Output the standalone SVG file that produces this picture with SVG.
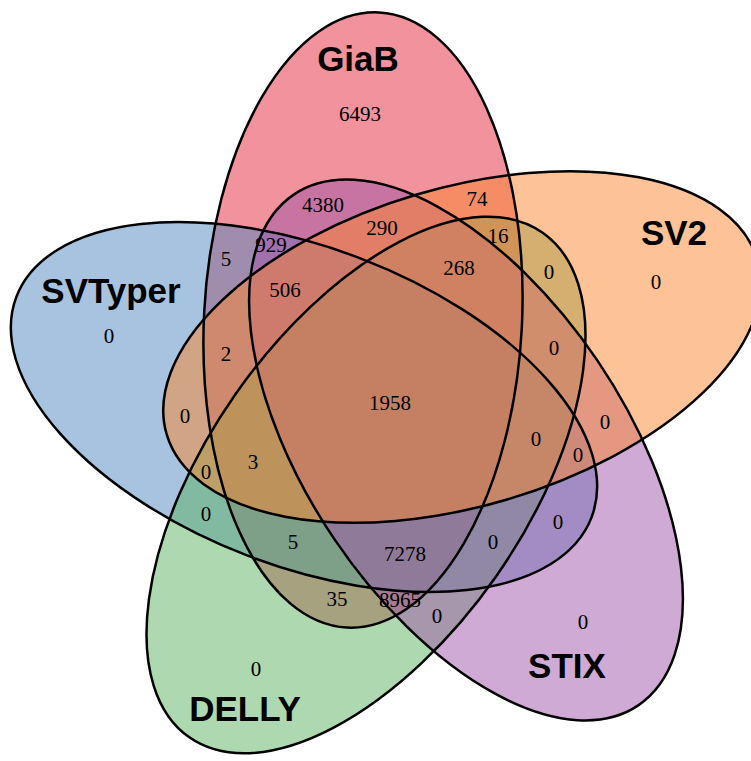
<svg xmlns="http://www.w3.org/2000/svg" xmlns:xlink="http://www.w3.org/1999/xlink" width="751" height="761" viewBox="0 0 751 761">
  <style>
    .fill { fill-opacity: 0.5; stroke: none; }
    .outline { fill: none; stroke: #000; stroke-width: 2.5; }
    .name { font-family: "Liberation Sans", Arial, sans-serif; font-weight: bold; font-size: 35px; text-anchor: middle; fill: #000; }
    .num { font-family: "Liberation Serif", "Times New Roman", serif; font-size: 21px; text-anchor: middle; fill: #000; }
  </style>
  <defs>
    <ellipse id="e-giab" cx="363" cy="320" rx="308" ry="159" transform="rotate(-87 363 320)"/>
    <ellipse id="e-svtyper" cx="304" cy="407" rx="308" ry="159" transform="rotate(21 304 407)"/>
    <ellipse id="e-delly" cx="366" cy="485" rx="308" ry="159" transform="rotate(-55 366 485)"/>
    <ellipse id="e-stix" cx="466" cy="450" rx="308" ry="159" transform="rotate(56 466 450)"/>
    <ellipse id="e-sv2" cx="462" cy="347" rx="308" ry="159" transform="rotate(-16.5 462 347)"/>
  </defs>
  <rect width="751" height="761" fill="#fff"/>
  <g id="node-giab">
    <use xlink:href="#e-giab" href="#e-giab" class="fill" fill="#E4253A"/>
    <text class="name" x="358" y="71">GiaB</text>
  </g>
  <g id="node-svtyper">
    <use xlink:href="#e-svtyper" href="#e-svtyper" class="fill" fill="#4F87BF"/>
    <text class="name" x="111" y="303">SVTyper</text>
  </g>
  <g id="node-delly">
    <use xlink:href="#e-delly" href="#e-delly" class="fill" fill="#5BB161"/>
    <text class="name" x="245" y="721">DELLY</text>
  </g>
  <g id="node-stix">
    <use xlink:href="#e-stix" href="#e-stix" class="fill" fill="#9F55A9"/>
    <text class="name" x="567" y="678">STIX</text>
  </g>
  <g id="node-sv2">
    <use xlink:href="#e-sv2" href="#e-sv2" class="fill" fill="#FB852D"/>
    <text class="name" x="674" y="245">SV2</text>
  </g>
  <g id="outlines">
    <use xlink:href="#e-giab" href="#e-giab" class="outline"/>
    <use xlink:href="#e-svtyper" href="#e-svtyper" class="outline"/>
    <use xlink:href="#e-delly" href="#e-delly" class="outline"/>
    <use xlink:href="#e-stix" href="#e-stix" class="outline"/>
    <use xlink:href="#e-sv2" href="#e-sv2" class="outline"/>
  </g>
  <g id="counts">
    <text class="num" x="360" y="121">6493</text>
    <text class="num" x="323" y="212">4380</text>
    <text class="num" x="477" y="206">74</text>
    <text class="num" x="382" y="235">290</text>
    <text class="num" x="271" y="252">929</text>
    <text class="num" x="498" y="243">16</text>
    <text class="num" x="226" y="266">5</text>
    <text class="num" x="459" y="275">268</text>
    <text class="num" x="549" y="279">0</text>
    <text class="num" x="656" y="289">0</text>
    <text class="num" x="285" y="297">506</text>
    <text class="num" x="109" y="343">0</text>
    <text class="num" x="226" y="361">2</text>
    <text class="num" x="554" y="355">0</text>
    <text class="num" x="390" y="410">1958</text>
    <text class="num" x="185" y="423">0</text>
    <text class="num" x="605" y="429">0</text>
    <text class="num" x="536" y="446">0</text>
    <text class="num" x="578" y="462">0</text>
    <text class="num" x="253" y="469">3</text>
    <text class="num" x="206" y="479">0</text>
    <text class="num" x="206" y="521">0</text>
    <text class="num" x="558" y="529">0</text>
    <text class="num" x="293" y="549">5</text>
    <text class="num" x="405" y="561">7278</text>
    <text class="num" x="493" y="549">0</text>
    <text class="num" x="337" y="606">35</text>
    <text class="num" x="400" y="607">8965</text>
    <text class="num" x="437" y="623">0</text>
    <text class="num" x="583" y="629">0</text>
    <text class="num" x="256" y="676">0</text>
  </g>
</svg>
